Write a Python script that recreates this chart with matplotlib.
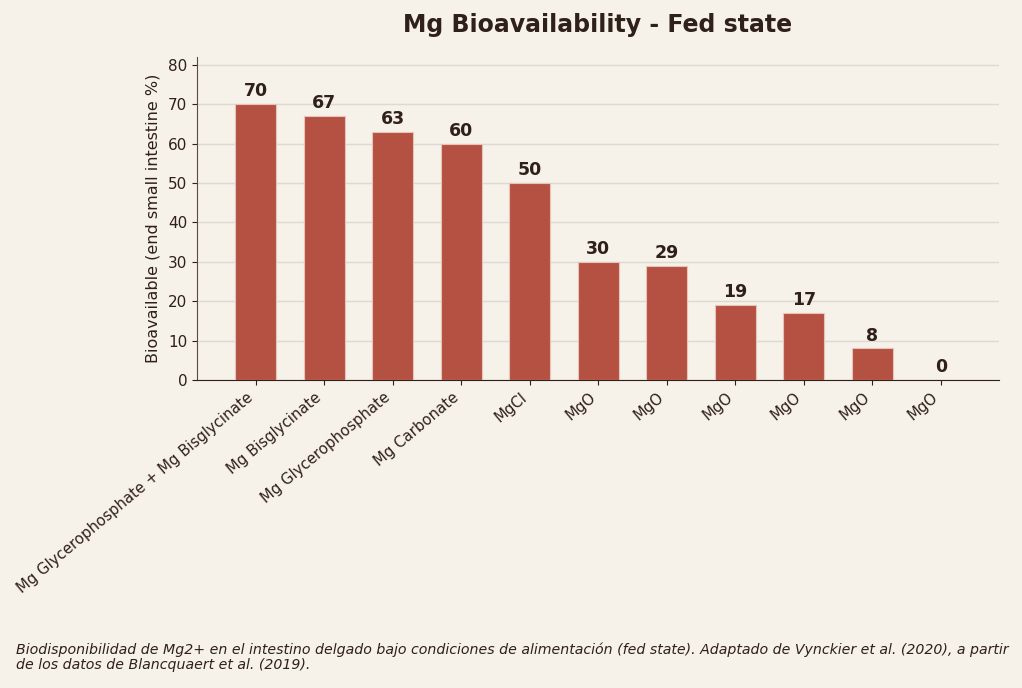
import matplotlib
matplotlib.use("Agg")
import matplotlib.pyplot as plt
import numpy as np

categories = ["Mg Glycerophosphate + Mg Bisglycinate", "Mg Bisglycinate", "Mg Glycerophosphate",
              "Mg Carbonate", "MgCl", "MgO", "MgO", "MgO", "MgO", "MgO", "MgO"]
values = [70, 67, 63, 60, 50, 30, 29, 19, 17, 8, 0]
yticks = [0, 10, 20, 30, 40, 50, 60, 70, 80]

bg = "#f6f1e9"
bar_color = "#b55142"
text_color = "#2f2019"

fig = plt.figure(figsize=(10.22, 6.88), dpi=100, facecolor=bg)
ax = fig.add_axes([197/1022, 1-380/688, (999-197)/1022, (380-57)/688])
ax.set_facecolor(bg)
x = np.arange(len(categories))
bars = ax.bar(x, values, width=0.6, color=bar_color, edgecolor="#e8c4b8", linewidth=0.8, zorder=3)
for xi, v in zip(x, values):
    ax.text(xi, v + 1.0, str(v), ha="center", va="bottom", fontsize=12.5, fontweight="bold", color=text_color, zorder=4)
ax.set_ylim(0, 82)
ax.set_xlim(-0.86, 10.85)
ax.set_yticks(yticks)
ax.set_xticks(x)
ax.set_xticklabels(categories, rotation=40, ha="right", fontsize=10.75, color=text_color)
ax.tick_params(axis="y", labelsize=11, labelcolor=text_color, color=text_color)
ax.tick_params(axis="x", color=text_color)
ax.grid(axis="y", color="#dcdad2", linewidth=1, zorder=0)
ax.set_axisbelow(True)
for s in ["top", "right"]:
    ax.spines[s].set_visible(False)
ax.spines["left"].set_color("#5a4a44")
ax.spines["bottom"].set_color(text_color)
ax.set_ylabel("Bioavailable (end small intestine %)", fontsize=11.5, color=text_color, labelpad=5)
fig.text(598/1022, 1-25/688, "Mg Bioavailability - Fed state", ha="center", va="center",
         fontsize=17, fontweight="bold", color=text_color)
fig.text(16/1022, 1-657/688,
         "Biodisponibilidad de Mg2+ en el intestino delgado bajo condiciones de alimentación (fed state). Adaptado de Vynckier et al. (2020), a partir\nde los datos de Blancquaert et al. (2019).",
         ha="left", va="center", fontsize=10.2, style="italic", color=text_color, linespacing=1.1)
fig.savefig("out.png", dpi=100, facecolor=bg)
